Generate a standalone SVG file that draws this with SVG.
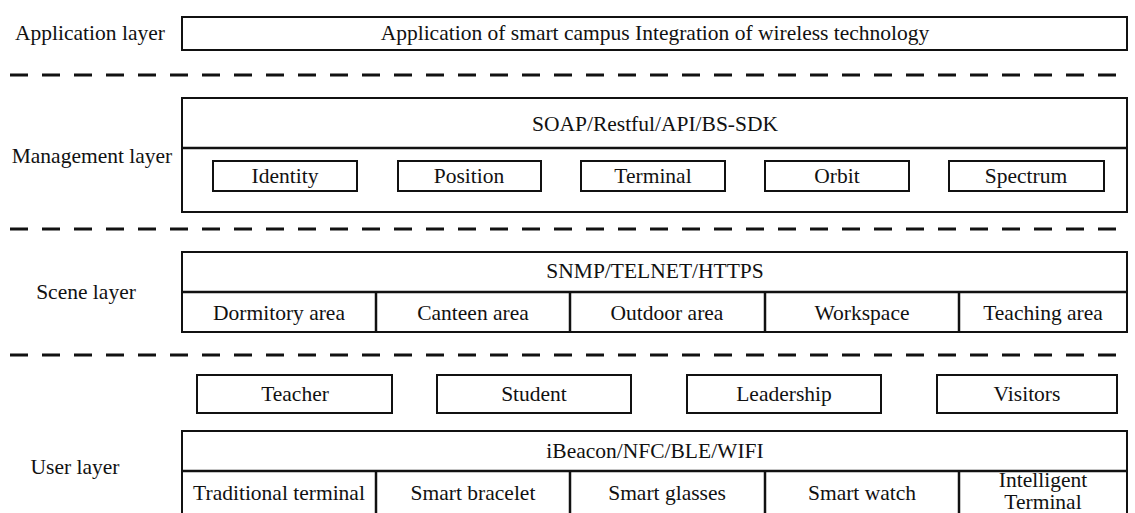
<svg xmlns="http://www.w3.org/2000/svg" width="1135" height="513" viewBox="0 0 1135 513">
  <style>
    text { font-family: "Liberation Serif", "Times New Roman", serif; font-size: 21.5px; fill: #111; }
    .c { text-anchor: middle; }
    .box { fill: #fff; stroke: #111; stroke-width: 2; }
    .div { stroke: #111; stroke-width: 2.5; fill: none; }
    .dash { stroke: #111; stroke-width: 3; stroke-dasharray: 18 14; fill: none; }
  </style>
  <rect width="1135" height="513" fill="#fff"/>

  <!-- layer separators -->
  <g id="separators">
    <line class="dash" x1="10" y1="75" x2="1130" y2="75"/>
    <line class="dash" x1="10" y1="229" x2="1130" y2="229"/>
    <line class="dash" x1="10" y1="355" x2="1130" y2="355"/>
  </g>

  <!-- application layer -->
  <g id="application-layer">
    <text class="c" x="90" y="40">Application layer</text>
    <rect class="box" x="182" y="17" width="945" height="33"/>
    <text class="c" x="655" y="40">Application of smart campus Integration of wireless technology</text>
  </g>

  <!-- management layer -->
  <g id="management-layer">
    <text class="c" x="92" y="163">Management layer</text>
    <rect class="box" x="182" y="98" width="945" height="114"/>
    <line class="div" x1="182" y1="148" x2="1127" y2="148"/>
    <text class="c" x="655" y="131">SOAP/Restful/API/BS-SDK</text>
    <g id="m-identity"><rect class="box" x="213" y="161" width="144" height="30"/><text class="c" x="285" y="183">Identity</text></g>
    <g id="m-position"><rect class="box" x="398" y="161" width="143" height="30"/><text class="c" x="469" y="183">Position</text></g>
    <g id="m-terminal"><rect class="box" x="581" y="161" width="144" height="30"/><text class="c" x="653" y="183">Terminal</text></g>
    <g id="m-orbit"><rect class="box" x="765" y="161" width="144" height="30"/><text class="c" x="837" y="183">Orbit</text></g>
    <g id="m-spectrum"><rect class="box" x="949" y="161" width="155" height="30"/><text class="c" x="1026" y="183">Spectrum</text></g>
  </g>

  <!-- scene layer -->
  <g id="scene-layer">
    <text class="c" x="86" y="299">Scene layer</text>
    <rect class="box" x="182" y="252" width="945" height="80"/>
    <line class="div" x1="182" y1="292" x2="1127" y2="292"/>
    <text class="c" x="655" y="278">SNMP/TELNET/HTTPS</text>
    <line class="div" x1="376" y1="292" x2="376" y2="332"/>
    <line class="div" x1="570" y1="292" x2="570" y2="332"/>
    <line class="div" x1="765" y1="292" x2="765" y2="332"/>
    <line class="div" x1="959" y1="292" x2="959" y2="332"/>
    <text class="c" x="279" y="320">Dormitory area</text>
    <text class="c" x="473" y="320">Canteen area</text>
    <text class="c" x="667" y="320">Outdoor area</text>
    <text class="c" x="862" y="320">Workspace</text>
    <text class="c" x="1043" y="320">Teaching area</text>
  </g>

  <!-- user layer -->
  <g id="user-layer">
    <text class="c" x="75" y="474">User layer</text>
    <g id="u-teacher"><rect class="box" x="197" y="375" width="195" height="38"/><text class="c" x="295" y="401">Teacher</text></g>
    <g id="u-student"><rect class="box" x="437" y="375" width="194" height="38"/><text class="c" x="534" y="401">Student</text></g>
    <g id="u-leadership"><rect class="box" x="687" y="375" width="194" height="38"/><text class="c" x="784" y="401">Leadership</text></g>
    <g id="u-visitors"><rect class="box" x="937" y="375" width="180" height="38"/><text class="c" x="1027" y="401">Visitors</text></g>
    <rect class="box" x="182" y="431" width="945" height="100"/>
    <line class="div" x1="182" y1="471" x2="1127" y2="471"/>
    <text class="c" x="655" y="458">iBeacon/NFC/BLE/WIFI</text>
    <line class="div" x1="376" y1="471" x2="376" y2="513"/>
    <line class="div" x1="570" y1="471" x2="570" y2="513"/>
    <line class="div" x1="765" y1="471" x2="765" y2="513"/>
    <line class="div" x1="959" y1="471" x2="959" y2="513"/>
    <text class="c" x="279" y="500">Traditional terminal</text>
    <text class="c" x="473" y="500">Smart bracelet</text>
    <text class="c" x="667" y="500">Smart glasses</text>
    <text class="c" x="862" y="500">Smart watch</text>
    <text class="c" x="1043" y="487">Intelligent</text>
    <text class="c" x="1043" y="509">Terminal</text>
  </g>
</svg>
